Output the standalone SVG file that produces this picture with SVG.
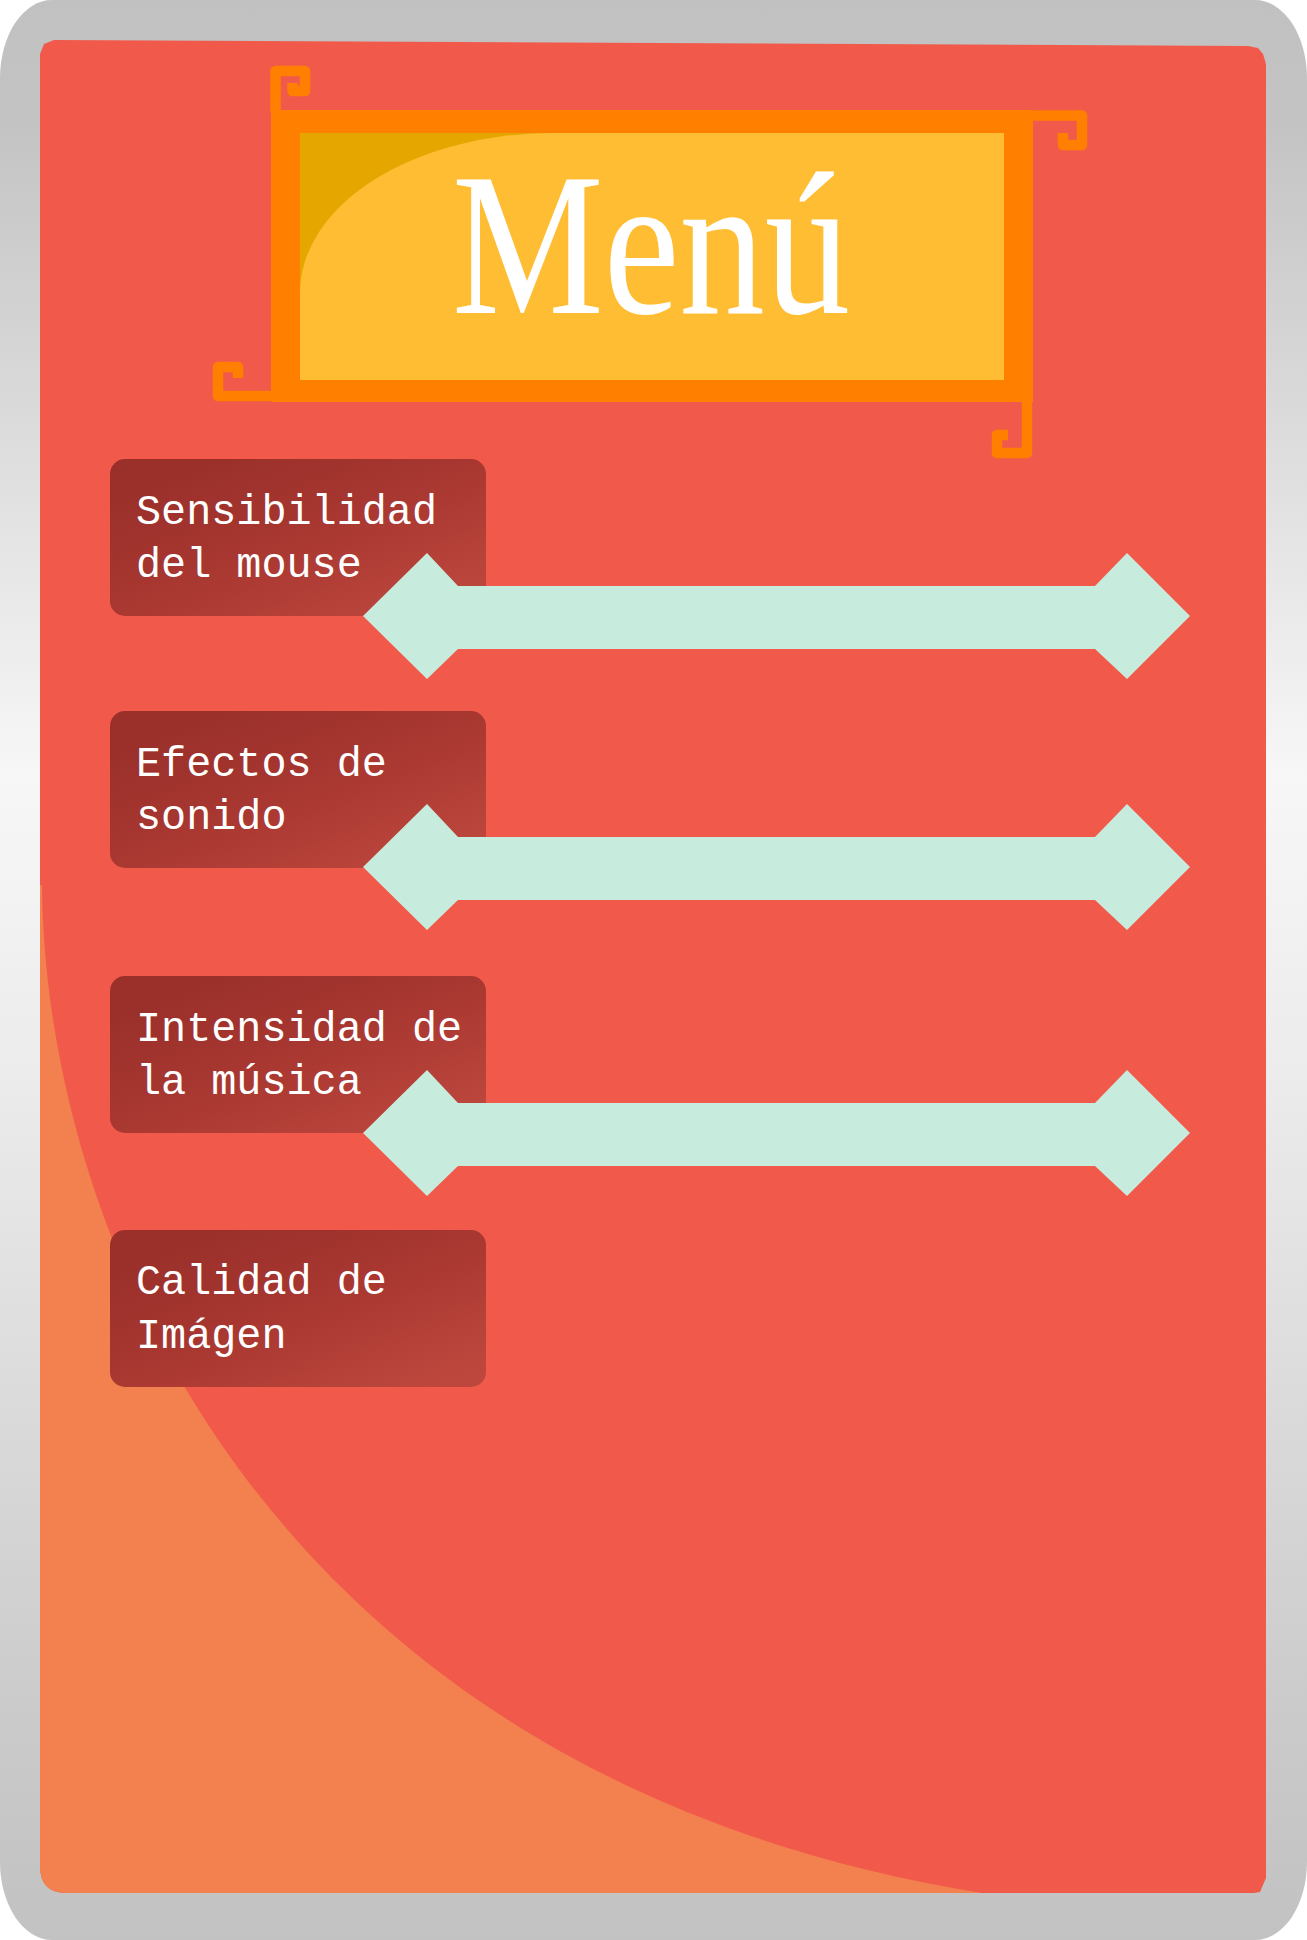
<svg xmlns="http://www.w3.org/2000/svg" width="1307" height="1940" viewBox="0 0 1307 1940">
<defs>
<linearGradient id="greyGrad" x1="0" y1="0" x2="0" y2="1">
<stop offset="0" stop-color="#c1c1c1"/>
<stop offset="0.06" stop-color="#c3c3c3"/>
<stop offset="0.4" stop-color="#f7f7f7"/>
<stop offset="0.55" stop-color="#ececec"/>
<stop offset="0.9" stop-color="#c9c9c9"/>
<stop offset="1" stop-color="#c2c2c2"/>
</linearGradient>
<linearGradient id="boxGrad" x1="0.2" y1="0.1" x2="0.95" y2="0.9">
<stop offset="0" stop-color="#9b302b"/>
<stop offset="0.35" stop-color="#a5352f"/>
<stop offset="1" stop-color="#bd473d"/>
</linearGradient>
</defs>
<style>
.box{fill:url(#boxGrad);}
.lbl{font-family:"Liberation Mono","DejaVu Sans Mono",monospace;font-size:41.8px;fill:#ffffff;}
.slider{fill:#c7ecdd;}
.hook{fill:none;stroke:#ff7f00;stroke-width:10.5;stroke-linejoin:round;stroke-linecap:butt;}
</style>

<g id="background">
<rect x="0" y="0" width="1307" height="1940" fill="#ffffff"/>
<rect x="0" y="0" width="1307" height="1940" rx="52" ry="78" fill="url(#greyGrad)"/>
<path id="panel" d="M40 54 L44 44 L54 40 L1248 46 L1258 48 L1263 54 L1266 64 L1266 1878 L1260 1892 L1254 1893 L66 1893 Q40 1893 40 1866 Z" fill="#f15a4b"/>
<path id="panel-curve" d="M40 885 L42 885 C45 1250 280 1780 982 1893 L66 1893 Q40 1893 40 1866 Z" fill="#f3804f"/>
</g>

<g id="menu-title">
<rect x="271" y="110" width="762" height="292" fill="#ff7f00"/>
<rect x="300" y="133" width="704" height="247" fill="#ffbd33"/>
<path d="M300 133 L553 133 A253 160 0 0 0 300 293 Z" fill="#e6a600"/>
<path class="hook" d="M275.5 112 L275.5 71 L305 71 L305 91 L292.5 91 L292.5 83"/>
<path class="hook" d="M1030 115.5 L1082 115.5 L1082 145 L1063 145 L1063 133"/>
<path class="hook" d="M273 396 L218 396 L218 367 L238 367 L238 378"/>
<path class="hook" d="M1027 400 L1027 453 L997 453 L997 435 L1008 435"/>
<text x="452" y="313" font-family="'Liberation Serif','DejaVu Serif',serif" font-size="204" fill="#ffffff" textLength="398" lengthAdjust="spacingAndGlyphs">Menú</text>
</g>

<g id="option-mouse">
<rect class="box" x="110" y="459" width="376" height="157" rx="15"/>
<text class="lbl" x="136" y="524">Sensibilidad</text>
<text class="lbl" x="136" y="577">del mouse</text>
</g>
<g id="option-sonido">
<rect class="box" x="110" y="711" width="376" height="157" rx="15"/>
<text class="lbl" x="136" y="776">Efectos de</text>
<text class="lbl" x="136" y="829">sonido</text>
</g>
<g id="option-musica">
<rect class="box" x="110" y="976" width="376" height="157" rx="15"/>
<text class="lbl" x="136" y="1041">Intensidad de</text>
<text class="lbl" x="136" y="1094">la música</text>
</g>
<g id="option-imagen">
<rect class="box" x="110" y="1230" width="376" height="157" rx="15"/>
<text class="lbl" x="136" y="1294">Calidad de</text>
<text class="lbl" x="136" y="1348">Imágen</text>
</g>

<g id="sliders">
<polygon id="slider-1" class="slider" points="363,616 427,553 458,586 1095,586 1127,553 1190,616 1127,679 1095,649 458,649 427,679"/>
<polygon id="slider-2" class="slider" transform="translate(0,251)" points="363,616 427,553 458,586 1095,586 1127,553 1190,616 1127,679 1095,649 458,649 427,679"/>
<polygon id="slider-3" class="slider" transform="translate(0,517)" points="363,616 427,553 458,586 1095,586 1127,553 1190,616 1127,679 1095,649 458,649 427,679"/>
</g>
</svg>
